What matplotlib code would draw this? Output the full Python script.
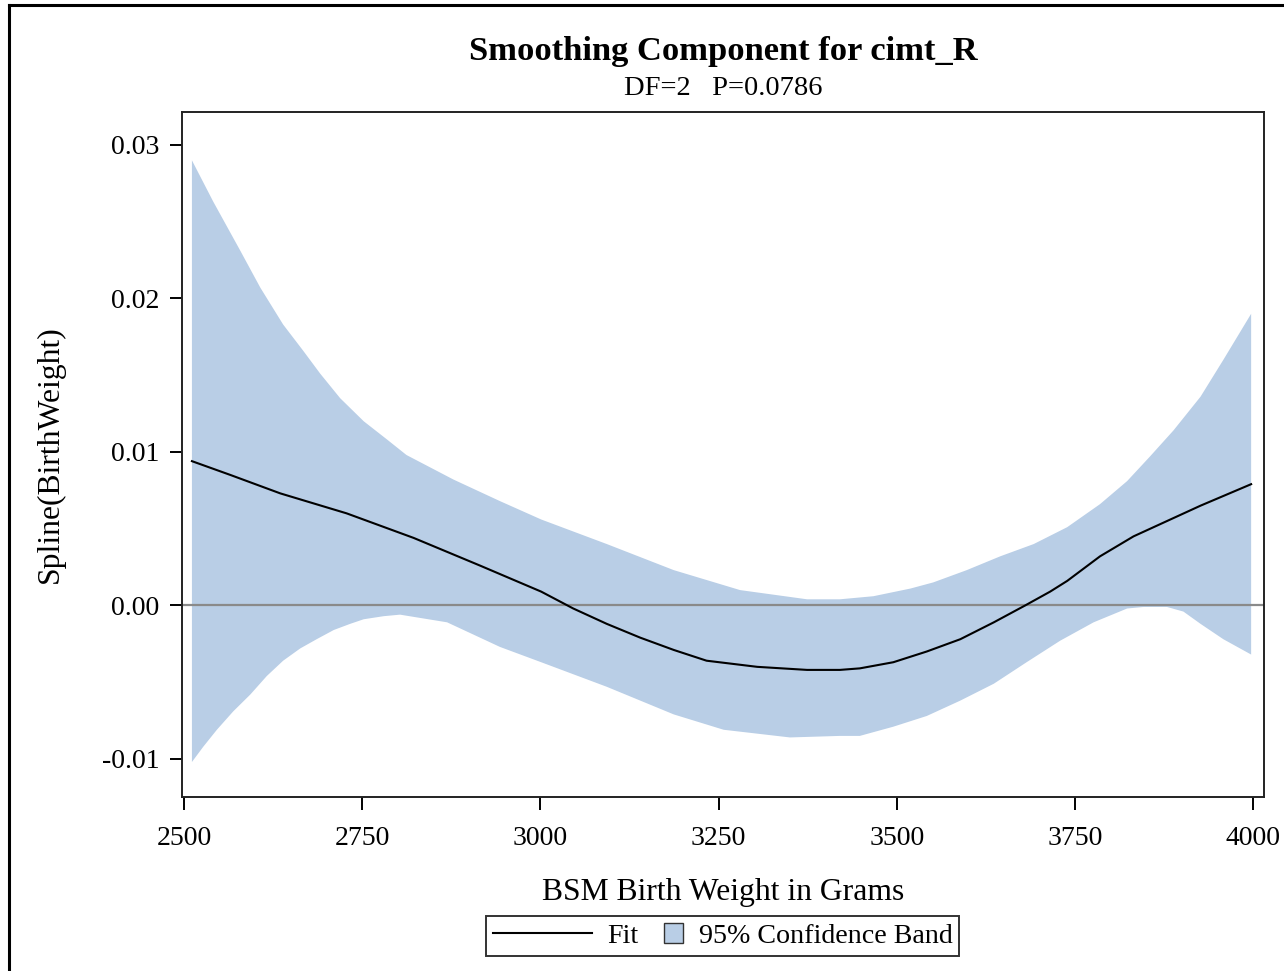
import numpy as np
import matplotlib
matplotlib.use("Agg")
import matplotlib.pyplot as plt
import matplotlib.patches as mpatches
from matplotlib.lines import Line2D
from matplotlib.legend_handler import HandlerPatch

plt.rcParams['font.family'] = ['Liberation Serif', 'DejaVu Serif']
plt.rcParams['axes.unicode_minus'] = False

# Fit curve
fit_x = [2511, 2565, 2635, 2728, 2822, 2915, 3001, 3046, 3093, 3140, 3187,
         3233, 3304, 3374, 3420, 3448, 3495, 3542, 3589, 3636, 3680, 3715,
         3739, 3785, 3832, 3879, 3926, 3997]
fit_y = [0.0094, 0.0085, 0.0073, 0.0060, 0.0044, 0.0026, 0.0009, -0.0002,
         -0.0012, -0.0021, -0.0029, -0.0036, -0.0040, -0.0042, -0.0042,
         -0.0041, -0.0037, -0.0030, -0.0022, -0.0011, 0.0000, 0.0009,
         0.0016, 0.0032, 0.0045, 0.0055, 0.0065, 0.0079]

# 95% confidence band, upper and lower edges
upper_x = [2511, 2541, 2579, 2607, 2639, 2667, 2691, 2719, 2752, 2785, 2812,
           2845, 2878, 2943, 3001, 3093, 3187, 3280, 3374, 3420, 3467, 3519,
           3551, 3598, 3645, 3692, 3739, 3785, 3823, 3855, 3888, 3926, 3958,
           3997]
upper_y = [0.0290, 0.0263, 0.0231, 0.0207, 0.0183, 0.0166, 0.0151, 0.0135,
           0.0120, 0.0108, 0.0098, 0.0090, 0.0082, 0.0068, 0.0056, 0.0040,
           0.0023, 0.0010, 0.0004, 0.0004, 0.0006, 0.0011, 0.0015, 0.0023,
           0.0032, 0.0040, 0.0051, 0.0066, 0.0081, 0.0097, 0.0114, 0.0136,
           0.0160, 0.0190]
lower_x = [2511, 2527, 2546, 2569, 2593, 2616, 2639, 2663, 2686, 2710, 2733,
           2752, 2780, 2803, 2869, 2943, 3001, 3093, 3187, 3257, 3350, 3420,
           3448, 3495, 3542, 3589, 3636, 3682, 3729, 3776, 3823, 3846, 3879,
           3902, 3926, 3958, 3997]
lower_y = [-0.0102, -0.0092, -0.0081, -0.0069, -0.0058, -0.0046, -0.0036,
           -0.0028, -0.0022, -0.0016, -0.0012, -0.0009, -0.0007, -0.0006,
           -0.0011, -0.0027, -0.0037, -0.0053, -0.0071, -0.0081, -0.0086,
           -0.0085, -0.0085, -0.0079, -0.0072, -0.0062, -0.0051, -0.0037,
           -0.0023, -0.0011, -0.0002, -0.0001, -0.0001, -0.0004, -0.0012,
           -0.0022, -0.0032]

x_ticks = [2500, 2750, 3000, 3250, 3500, 3750, 4000]
y_ticks = [-0.01, 0.00, 0.01, 0.02, 0.03]

band_color = '#B9CEE6'

fig = plt.figure(figsize=(12.84, 9.71), dpi=100)
ax = fig.add_axes([0.1417, 0.1792, 0.8427, 0.7055])

band_px = np.concatenate([upper_x, lower_x[::-1]])
band_py = np.concatenate([upper_y, lower_y[::-1]])
ax.fill(band_px, band_py, color=band_color, lw=0, zorder=1)
ax.axhline(0, color='#8a8a8a', lw=1.6, zorder=2)
ax.plot(fit_x, fit_y, color='black', lw=1.5, zorder=3)

ax.set_xlim(2497, 4015)
ax.set_ylim(-0.01248, 0.03215)
ax.set_xticks(x_ticks)
ax.set_yticks(y_ticks)
ax.set_yticklabels([f'{v:.2f}' for v in y_ticks])
ax.tick_params(axis='both', labelsize=20, width=1.4, length=9, direction='out')
ax.tick_params(axis='y', pad=7)
ax.tick_params(axis='x', pad=12)
for sp in ax.spines.values():
    sp.set_linewidth(1.4)
    sp.set_color('#222222')

ax.set_xlabel('BSM Birth Weight in Grams', fontsize=22.8, labelpad=19)
ax.set_ylabel('Spline(BirthWeight)', fontsize=22.8, labelpad=27)

fig.text(0.563, 0.947, 'Smoothing Component for cimt_R', ha='center',
         va='center', fontsize=24.8, fontweight='bold')
fig.text(0.563, 0.909, 'DF=2   P=0.0786', ha='center', va='center', fontsize=20.5)


def square_patch(legend, orig_handle, xdescent, ydescent, width, height, fontsize):
    s = fontsize * 0.7
    return mpatches.Rectangle((width - s - xdescent, (height - s) / 2 - ydescent), s, s)


handles = [Line2D([], [], color='black', lw=1.5),
           mpatches.Patch(facecolor=band_color, edgecolor='#333333', lw=1.0)]
leg = fig.legend(handles, ['Fit', '95% Confidence Band'], ncol=2,
                 loc='center', bbox_to_anchor=(0.563, 0.036), fontsize=20.2,
                 frameon=True, fancybox=False, handlelength=3.5,
                 handletextpad=0.55, columnspacing=-1.9, borderpad=0.25,
                 borderaxespad=0,
                 handler_map={mpatches.Patch: HandlerPatch(patch_func=square_patch)})
leg.get_frame().set_edgecolor('black')
leg.get_frame().set_linewidth(1.4)

# outer border of the graph
fig.add_artist(Line2D([0.007, 0.007], [0.0, 0.995], color='black', lw=2.2,
                      transform=fig.transFigure))
fig.add_artist(Line2D([0.007, 1.0], [0.995, 0.995], color='black', lw=2.2,
                      transform=fig.transFigure))

fig.savefig('out.png', dpi=100)
